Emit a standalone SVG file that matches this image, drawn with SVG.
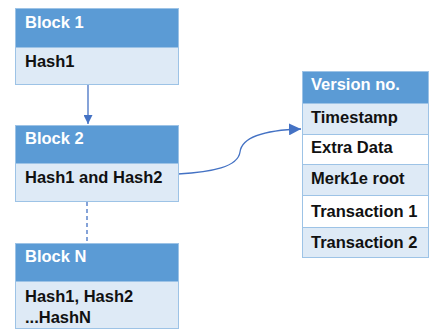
<svg xmlns="http://www.w3.org/2000/svg" width="430" height="330" viewBox="0 0 430 330">
  <style>
    .hdr { fill: #5B9BD5; stroke: #9DC3E6; stroke-width: 1; }
    .body { fill: #DEEAF6; stroke: #9DC3E6; stroke-width: 1; }
    .white { fill: #FFFFFF; stroke: #9DC3E6; stroke-width: 1; }
    text { font-family: "Liberation Sans", Arial, sans-serif; font-weight: bold; font-size: 16.5px; }
    .ht { fill: #FFFFFF; }
    .bt { fill: #111111; }
    .conn { fill: none; stroke: #4472C4; stroke-width: 1.3; }
  </style>
  <defs>
    <marker id="arrow" viewBox="0 0 10 10" refX="10" refY="5" markerWidth="9" markerHeight="9" markerUnits="userSpaceOnUse" orient="auto">
      <path d="M0,0 L10,5 L0,10 z" fill="#4472C4"/>
    </marker>
    <marker id="arrowBig" viewBox="0 0 10 10" refX="10" refY="5" markerWidth="12" markerHeight="12" markerUnits="userSpaceOnUse" orient="auto">
      <path d="M0,0 L10,5 L0,10 z" fill="#4472C4"/>
    </marker>
  </defs>

  <g id="connectors">
    <line class="conn" x1="88" y1="85" x2="88" y2="124" marker-end="url(#arrow)"/>
    <line class="conn" x1="87" y1="202" x2="87" y2="243" stroke-width="1.7" stroke-dasharray="4,3"/>
    <path class="conn" d="M178,174 C212,172 238,167 240,152 C242,136 268,130 301,129" marker-end="url(#arrowBig)"/>
  </g>

  <g id="block1">
    <rect class="hdr" x="15.5" y="8.5" width="163" height="39"/>
    <rect class="body" x="15.5" y="47.5" width="163" height="37"/>
    <text class="ht" x="25" y="28">Block 1</text>
    <text class="bt" x="25" y="67">Hash1</text>
  </g>

  <g id="block2">
    <rect class="hdr" x="15.5" y="125.5" width="163" height="38"/>
    <rect class="body" x="15.5" y="163.5" width="163" height="38"/>
    <text class="ht" x="25" y="144">Block 2</text>
    <text class="bt" x="25" y="183">Hash1 and Hash2</text>
  </g>

  <g id="blockN">
    <rect class="hdr" x="15.5" y="243.5" width="163" height="38"/>
    <rect class="body" x="15.5" y="281.5" width="163" height="47"/>
    <text class="ht" x="25" y="262">Block N</text>
    <text class="bt" x="25" y="302">Hash1, Hash2</text>
    <text class="bt" x="25" y="323">...HashN</text>
  </g>

  <g id="header-table">
    <rect class="hdr" x="302.5" y="71.5" width="126" height="32"/>
    <rect class="body" x="302.5" y="103.5" width="126" height="31"/>
    <rect class="white" x="302.5" y="134.5" width="126" height="30"/>
    <rect class="body" x="302.5" y="164.5" width="126" height="31"/>
    <rect class="white" x="302.5" y="195.5" width="126" height="32"/>
    <rect class="body" x="302.5" y="227.5" width="126" height="30"/>
    <text class="ht" x="311" y="90">Version no.</text>
    <text class="bt" x="311" y="123">Timestamp</text>
    <text class="bt" x="311" y="153">Extra Data</text>
    <text class="bt" x="311" y="184">Merk1e root</text>
    <text class="bt" x="311" y="217">Transaction 1</text>
    <text class="bt" x="311" y="248">Transaction 2</text>
  </g>
</svg>
